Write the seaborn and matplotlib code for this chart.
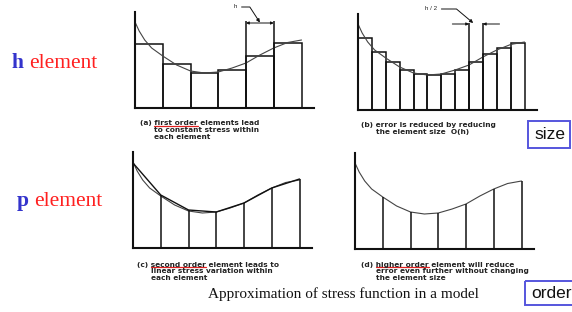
import matplotlib.pyplot as plt
import matplotlib.patches as mpatches
import seaborn as sns

# stress curve shared by the four sketches (x in element lengths h, y in stress units)
curve_x = [0, 0.15, 0.35, 0.6, 1.0, 1.5, 2.0, 2.5, 3.0, 3.5, 4.0, 4.5, 5.0, 5.5, 6.0]
curve_y = [86, 77, 68, 60, 52, 43, 37, 35, 36, 40, 45, 53, 60, 65.5, 68]

# (a) constant value per element of size h
bars_a_x = [0, 1, 2, 3, 4, 5]
bars_a_y = [64, 44, 35, 38, 52, 65]

# (b) constant value per element of size h/2
bars_b_x = [0, 0.5, 1, 1.5, 2, 2.5, 3, 3.5, 4, 4.5, 5, 5.5]
bars_b_y = [72, 58, 48, 40, 36, 35, 36, 40, 48, 56, 62, 67]

# (c) and (d) nodal values
nodes_x = [0, 1, 2, 3, 4, 5, 6]
nodes_c = [85, 53, 38, 36, 45, 60, 69]
nodes_d = [85, 52, 37, 36, 45, 60, 68]

captions = {
    'a': ["(a)", "first order", "elements lead", "to constant stress within", "each element"],
    'b': ["(b)", "error is reduced by reducing", "", "the element size  O(h)", ""],
    'c': ["(c)", "second order", "element leads to", "linear stress variation within", "each element"],
    'd': ["(d)", "higher order", "element will reduce", "error even further without changing", "the element size"],
}

W, H = 572, 312
sns.set_style("white")
plt.rcParams['font.family'] = ['Liberation Sans', 'DejaVu Sans']

fig = plt.figure(figsize=(W / 100, H / 100), dpi=100)
ax0 = fig.add_axes([0, 0, 1, 1])
ax0.set_xlim(0, W)
ax0.set_ylim(H, 0)
ax0.axis('off')
renderer = fig.canvas.get_renderer()


def panel(left, top, width=179, height=96):
    ax = fig.add_axes([left / W, 1 - (top + height) / H, width / W, height / H])
    ax.set_xlim(0, 6.45)
    ax.set_ylim(0, 96)
    ax.set_xticks([])
    ax.set_yticks([])
    ax.patch.set_alpha(0)
    sns.despine(ax=ax)
    for s in ['left', 'bottom']:
        ax.spines[s].set_color('#111111')
        ax.spines[s].set_linewidth(1.5)
    return ax


def draw_curve(ax):
    sns.lineplot(x=curve_x, y=curve_y, ax=ax, color='#444444', linewidth=0.8,
                 sort=False, estimator=None)


def width_of(s, **kw):
    t = ax0.text(0, 0, s, **kw)
    w = t.get_window_extent(renderer).width
    t.remove()
    return w


cap_kw = dict(fontsize=5.3, fontweight='bold', color='#222222', family=['DejaVu Sans'])


def caption(x, y, key, step=6.7):
    tag, under, rest, line2, line3 = captions[key]
    first = f"{tag} {under} {rest}".strip()
    ax0.text(x, y, first, va='baseline', ha='left', **cap_kw)
    indent = width_of(tag + " f", **cap_kw) - width_of("f", **cap_kw)
    if key != 'b':
        u1 = x + width_of(f"{tag} {under}", **cap_kw)
        ax0.plot([x + indent, u1], [y + 0.8, y + 0.8], color='#e02020', lw=0.9)
    for i, line in enumerate([line2, line3]):
        if line:
            ax0.text(x + indent, y + step * (i + 1), line, va='baseline', ha='left', **cap_kw)


arrow_kw = dict(lw=0.7, color='#111111', shrinkA=0, shrinkB=0)

# (a)
ax_a = panel(135, 12)
ax_a.bar(bars_a_x, bars_a_y, width=1, align='edge', fill=False, edgecolor='#111111', linewidth=1.1)
draw_curve(ax_a)
ax_a.vlines([4, 5], 0, 87, color='#111111', lw=1.1)
ax_a.annotate('', xy=(4, 85), xytext=(5, 85),
              arrowprops=dict(arrowstyle='<|-|>', mutation_scale=4, **arrow_kw))
ax_a.annotate('h', xy=(4.5, 85.5), xytext=(3.55, 101), fontsize=4.5, va='center', ha='left',
              annotation_clip=False,
              arrowprops=dict(arrowstyle='-|>', mutation_scale=5, lw=0.7, color='#111111',
                              shrinkA=1, shrinkB=0,
                              connectionstyle='angle,angleA=0,angleB=-57,rad=0'))

# (b)
ax_b = panel(358, 14)
ax_b.bar(bars_b_x, bars_b_y, width=0.5, align='edge', fill=False, edgecolor='#111111', linewidth=1.1)
draw_curve(ax_b)
ax_b.vlines([4, 4.5], 0, 87, color='#111111', lw=1.1)
ax_b.annotate('', xy=(4, 86), xytext=(3.4, 86),
              arrowprops=dict(arrowstyle='-|>', mutation_scale=4, **arrow_kw))
ax_b.annotate('', xy=(4.5, 86), xytext=(5.1, 86),
              arrowprops=dict(arrowstyle='-|>', mutation_scale=4, **arrow_kw))
ax_b.annotate('h / 2', xy=(4.15, 87), xytext=(2.4, 101), fontsize=4.5, va='center', ha='left',
              annotation_clip=False,
              arrowprops=dict(arrowstyle='-|>', mutation_scale=5, lw=0.7, color='#111111',
                              shrinkA=1, shrinkB=0,
                              connectionstyle='angle,angleA=0,angleB=-40,rad=0'))

# (c)
ax_c = panel(133, 152)
draw_curve(ax_c)
sns.lineplot(x=nodes_x, y=nodes_c, ax=ax_c, color='#111111', linewidth=1.0, sort=False, estimator=None)
ax_c.vlines(nodes_x[1:], 0, nodes_c[1:], color='#111111', lw=1.1)

# (d)
ax_d = panel(355, 153)
draw_curve(ax_d)
ax_d.vlines(nodes_x[1:], 0, nodes_d[1:], color='#111111', lw=1.1)

caption(140, 125.5, 'a')
caption(361, 127.5, 'b')
caption(137, 266.5, 'c')
caption(361, 266.5, 'd')

# left labels
serif = ['Liberation Serif', 'DejaVu Serif']
for label, x, y in [('h', 12, 68), ('p', 17, 206)]:
    ax0.text(x, y, label, fontsize=15.5, fontweight='bold', color='#3333cc', family=serif, va='baseline')
    dx = width_of(label + " e", fontsize=15.5, fontweight='bold', family=serif) - \
        width_of("e", fontsize=15.5, fontweight='bold', family=serif)
    ax0.text(x + dx, y, 'element', fontsize=15.5, color='#ff2020', family=serif, va='baseline')

ax0.text(343, 294, 'Approximation of stress function in a model', fontsize=11,
         family=serif, ha='center', va='center', color='#111111')

# size / order boxes
for label, (bx, by, bw, bh) in [('size', (528, 121, 42, 27)), ('order', (525, 281, 50, 24))]:
    ax0.add_patch(mpatches.Rectangle((bx, by), bw, bh, fill=False, edgecolor='#5555dd', lw=1.4))
    ax0.text(bx + bw / 2 + 1, by + bh / 2, label, fontsize=12.5, ha='center', va='center', color='#111111')

fig.savefig('out.png', dpi=100)
